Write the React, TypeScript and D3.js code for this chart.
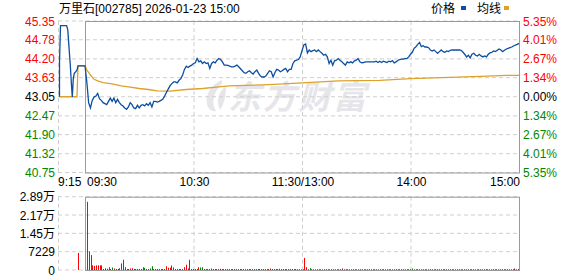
import React from 'react';
import * as d3 from 'd3';

const W = 578;
const H = 276;

const titleText = '万里石[002785] 2026-01-23 15:00';
const legendNames = ['价格', '均线'];
const prevClose = 43.05;
const priceTicks = [45.35, 44.78, 44.2, 43.63, 43.05, 42.47, 41.9, 41.32, 40.75];
const pctTicks = ['5.35%', '4.01%', '2.67%', '1.34%', '0.00%', '1.34%', '2.67%', '4.01%', '5.35%'];
const volTicks = [28916, 21687, 14458, 7229, 0];
const volTickLabels = ['2.89万', '2.17万', '1.45万', '7229', '0'];
const timeLabels = ['9:15', '09:30', '10:30', '11:30/13:00', '14:00', '15:00'];
const timeLabelMinutes = [-1, 0, 60, 120, 180, 240];
const gridMinutes = [60, 120, 180];

// pre-market auction (minutes after 9:15)
const preMinutes = [0.75, 0.76, 1.25, 4.3, 4.9, 5.5, 6.1, 6.8, 7.15, 7.65, 8.15, 8.85, 9.5, 10];
const prePrices = [43.05, 44.11, 45.21, 45.21, 45.08, 44.55, 44.05, 43.35, 43.04, 43.6, 43.76, 43.81, 43.86, 43.99];
const preAvgMinutes = [0.75, 9.5, 10];
const preAvgPrices = [43.05, 43.05, 43.99];
const preVolMinute = 10;
const preVolume = 6740;

// main session, one value per minute from 09:30 (0) to 15:00 (240)
const prices = [
  43.99, 43.5, 42.87, 42.71, 42.94, 43.04, 43.07, 43.15, 42.99, 42.94,
  42.87, 42.84, 42.81, 42.91, 43.01, 42.91, 43.01, 42.87, 42.97, 42.87,
  42.81, 42.77, 42.71, 42.67, 42.74, 42.87, 42.81, 42.71, 42.69, 42.79,
  42.71, 42.79, 42.81, 42.77, 42.84, 42.79, 42.87, 42.74, 42.91, 42.91,
  42.89, 42.91, 42.94, 42.97, 43.07, 43.18, 43.28, 43.38, 43.45, 43.5,
  43.5, 43.47, 43.55, 43.6, 43.71, 43.88, 43.98, 43.94, 43.98, 44.01,
  44.06, 44.08, 44.21, 44.11, 44.14, 44.06, 44.11, 44.06, 44.08, 43.91,
  44.06, 44.11, 44.08, 44.16, 44.21, 44.18, 44.11, 44.01, 44.01, 44.0,
  43.98, 43.96, 43.96, 43.98, 44.01, 43.96, 43.9, 43.84, 43.78, 43.76,
  43.81, 43.84, 43.78, 43.74, 43.81, 43.86, 43.76, 43.68, 43.65, 43.65,
  43.68, 43.76, 43.84, 43.81, 43.65, 43.78, 43.88, 43.86, 43.81, 43.84,
  43.88, 43.91, 43.81, 43.88, 43.88, 44.06, 44.14, 44.16, 44.18, 44.26,
  44.45, 44.62, 44.65, 44.38, 44.47, 44.42, 44.45, 44.47, 44.42, 44.47,
  44.42, 44.37, 44.31, 44.34, 44.26, 44.06, 44.16, 44.01, 44.14, 44.16,
  44.21, 44.16, 44.11, 44.06, 44.01, 44.11, 44.08, 44.11, 44.08, 44.14,
  44.16, 44.21, 44.11, 44.08, 44.09, 44.11, 44.11, 44.11, 44.11, 44.11,
  44.11, 44.13, 44.09, 44.13, 44.09, 44.13, 44.11, 44.09, 44.13, 44.11,
  44.15, 44.08, 44.11, 44.15, 44.18, 44.19, 44.19, 44.21, 44.21, 44.26,
  44.34, 44.4, 44.52, 44.57, 44.64, 44.7, 44.57, 44.6, 44.56, 44.56,
  44.54, 44.47, 44.44, 44.47, 44.42, 44.37, 44.42, 44.47, 44.42, 44.4,
  44.44, 44.42, 44.46, 44.47, 44.47, 44.47, 44.47, 44.47, 44.46, 44.4,
  44.34, 44.26, 44.31, 44.23, 44.34, 44.37, 44.31, 44.29, 44.34, 44.29,
  44.26, 44.29, 44.26, 44.34, 44.38, 44.4, 44.44, 44.42, 44.46, 44.5,
  44.47, 44.42, 44.46, 44.5, 44.52, 44.54, 44.56, 44.59, 44.62, 44.64,
  44.67,
];

const avgMinutes = [0, 1, 2, 3, 5, 7, 10, 15, 20, 25, 30, 35, 40, 47, 56, 65, 74, 80, 93, 102, 120, 140, 152, 163, 180, 197, 219, 233, 240];
const avgPrices = [43.99, 43.86, 43.79, 43.71, 43.58, 43.53, 43.48, 43.44, 43.38, 43.34, 43.3, 43.27, 43.23, 43.22, 43.27, 43.3, 43.35, 43.38, 43.4, 43.42, 43.47, 43.53, 43.54, 43.55, 43.6, 43.63, 43.67, 43.7, 43.7];

const volumes = [
  26900, 7350, 5880, 1840, 1600, 1840, 1840, 1840, 1840, 400,
  700, 500, 1100, 400, 1000, 600, 400, 400, 700, 2600,
  4050, 1100, 400, 400, 600, 700, 400, 400, 400, 400,
  400, 1100, 800, 400, 400, 600, 1500, 400, 400, 400,
  400, 400, 400, 400, 1500, 900, 900, 1800, 1000, 400,
  400, 400, 400, 400, 1100, 2080, 600, 4040, 400, 400,
  400, 400, 1100, 1000, 1100, 400, 370, 370, 370, 610,
  370, 370, 370, 370, 490, 370, 370, 370, 370, 370,
  370, 370, 370, 370, 370, 370, 370, 370, 370, 370,
  370, 370, 370, 370, 370, 370, 370, 370, 370, 370,
  370, 370, 610, 370, 370, 370, 370, 490, 370, 370,
  370, 370, 370, 370, 370, 370, 370, 300, 300, 300,
  300, 4780, 1100, 300, 700, 300, 300, 300, 300, 300,
  300, 300, 300, 300, 300, 300, 300, 300, 300, 300,
  300, 300, 600, 300, 300, 300, 300, 300, 300, 300,
  300, 300, 300, 300, 300, 300, 300, 300, 300, 300,
  300, 300, 300, 300, 300, 300, 300, 300, 300, 300,
  300, 300, 300, 300, 300, 300, 300, 300, 300, 300,
  300, 600, 300, 300, 300, 300, 300, 300, 300, 300,
  300, 300, 300, 300, 300, 300, 300, 300, 300, 300,
  300, 300, 300, 300, 300, 300, 300, 300, 300, 300,
  300, 300, 300, 300, 300, 300, 300, 300, 300, 300,
  300, 300, 300, 300, 300, 300, 300, 300, 300, 300,
  300, 300, 300, 300, 300, 300, 300, 300, 600, 300,
  400,
];

const volumeDirections =
  'gggrrrrrgg' + 'rggrgrgrgg' + 'rgrgrrgggr' + 'rrgrgggrrg' + 'grrrrrrrrr' +
  'rgggrrrrrr' + 'rrrggrrrrg' + 'rrgrrggggr' + 'ggrrrggggr' + 'rggggggrrr' +
  'rgrrrggrgg' + 'rrrrgrr' +
  'rgrrrrggrr' + 'gggrrrggrr' + 'rggggrrggr' + 'rrggrrrggg' + 'rrrggrrggr' +
  'rrgggrrrgg' + 'rrrrgggrrr' + 'ggrrrrgggr' + 'rggrrrgggg' + 'rrrggrrrgg' +
  'rrrgggrrgg' + 'rrrggrrggr' + 'rrgr';

const watermarkText = '东方财富';

const C = {
  blue: '#0c4fa0',
  orange: '#dca22a',
  red: '#ff0000',
  green: '#008800',
  grid: '#cfcfcf',
  box: '#9a9a9a',
  text: '#000000',
  watermark: '#e6e6ea',
};

const FONT = "'Liberation Sans', Arial, 'Noto Sans CJK SC', sans-serif";

export default function App() {
  const xPre = d3.scaleLinear().domain([0, 10]).range([58, 78]);
  const xMain = d3.scaleLinear().domain([0, 240]).range([85, 519]);
  const xVol = d3.scaleLinear().domain([0, 240]).range([87, 518]);
  const y = d3.scaleLinear().domain([40.75, 45.35]).range([172.5, 21]);
  const yVol = d3.scaleLinear().domain([0, 28916]).range([270, 196.7]);

  const linePts = (pre: [number, number][], main: [number, number][]) =>
    d3.line<[number, number]>().x((d) => d[0]).y((d) => d[1])([...pre, ...main]) || '';

  const pricePath = linePts(
    preMinutes.map((m, i) => [xPre(m), y(prePrices[i])]),
    prices.map((p, i) => [xMain(i), y(p)])
  );
  const avgPath = linePts(
    preAvgMinutes.map((m, i) => [xPre(m), y(preAvgPrices[i])]),
    avgMinutes.map((m, i) => [xMain(m), y(avgPrices[i])])
  );

  const left = 58;
  const boxL = xMain(0);
  const boxR = xMain(240);
  const labelColor = (i: number) => (i < 4 ? C.red : i === 4 ? C.text : C.green);

  return (
    <svg
      width={W}
      height={H}
      style={{ position: 'absolute', left: 0, top: 0, background: '#fff' }}
      fontFamily={FONT}
    >
      {/* title and legend */}
      <text x={59} y={13} fontSize={12} fill={C.text}>{titleText}</text>
      <text x={431} y={13} fontSize={12} fill={C.text}>{legendNames[0]}</text>
      <rect x={461} y={6} width={5} height={4} fill={C.blue} />
      <text x={477} y={13} fontSize={12} fill={C.text}>{legendNames[1]}</text>
      <rect x={504} y={6} width={5} height={4} fill={C.orange} />

      {/* watermark */}
      <g fill={C.watermark}>
        <path d="M222,80 C212,84 205,94 207,104 C208,109 212,112 216,111 C211,104 213,92 222,84 Z M226,86 C218,92 216,102 220,110 C224,104 226,96 226,86 Z" />
        <text x={228} y={109} fontSize={33} fontWeight="bold" fontStyle="italic" fontFamily="'Noto Sans CJK SC', sans-serif" letterSpacing={2}>
          {watermarkText}
        </text>
      </g>

      {/* main grid */}
      {priceTicks.map((p, i) => (
        <line key={'h' + i} x1={left} x2={boxR} y1={y(p)} y2={y(p)} stroke={C.grid} strokeDasharray="4,3" />
      ))}
      <line x1={left + 0.5} x2={left + 0.5} y1={y(45.35)} y2={y(40.75)} stroke={C.grid} strokeDasharray="4,3" />
      {gridMinutes.map((m) => (
        <line key={'v' + m} x1={xMain(m) + 0.5} x2={xMain(m) + 0.5} y1={y(45.35)} y2={y(40.75)} stroke={C.grid} strokeDasharray="4,3" />
      ))}
      <rect x={boxL + 0.5} y={y(45.35) + 0.5} width={boxR - boxL} height={y(40.75) - y(45.35)} fill="none" stroke={C.box} />

      {/* lines */}
      <path d={avgPath} fill="none" stroke={C.orange} strokeWidth={1.3} />
      <path d={pricePath} fill="none" stroke={C.blue} strokeWidth={1.3} />

      {/* price axis labels */}
      {priceTicks.map((p, i) => (
        <text key={'pl' + i} x={55} y={y(p) + 4.5} fontSize={12} textAnchor="end" fill={labelColor(i)}>
          {p.toFixed(2)}
        </text>
      ))}
      {pctTicks.map((t, i) => (
        <text key={'pr' + i} x={523} y={y(priceTicks[i]) + 4.5} fontSize={12} fill={labelColor(i)}>
          {t}
        </text>
      ))}

      {/* time labels */}
      {timeLabels.map((t, i) => {
        const m = timeLabelMinutes[i];
        const x = m < 0 ? xPre(0) : m === 0 ? xMain(0) + 2 : m === 240 ? xMain(240) + 1 : xMain(m) + 1;
        const anchor = m <= 0 ? 'start' : m === 240 ? 'end' : 'middle';
        return (
          <text key={'t' + i} x={x} y={186} fontSize={12} textAnchor={anchor} fill={C.text}>
            {t}
          </text>
        );
      })}

      {/* volume grid */}
      {volTicks.map((v, i) => (
        <line key={'vh' + i} x1={left} x2={boxR} y1={yVol(v)} y2={yVol(v)} stroke={C.grid} strokeDasharray="4,3" />
      ))}
      <line x1={left + 0.5} x2={left + 0.5} y1={yVol(28916)} y2={yVol(0)} stroke={C.grid} strokeDasharray="4,3" />
      {gridMinutes.map((m) => (
        <line key={'vv' + m} x1={xMain(m) + 0.5} x2={xMain(m) + 0.5} y1={yVol(28916)} y2={yVol(0)} stroke={C.grid} strokeDasharray="4,3" />
      ))}

      {/* volume bars */}
      <rect x={xPre(preVolMinute)} y={yVol(preVolume)} width={1} height={yVol(0) - yVol(preVolume)} fill={C.red} />
      {volumes.map((v, i) => (
        <rect
          key={'vb' + i}
          x={Math.round(xVol(i))}
          y={yVol(v)}
          width={1}
          height={yVol(0) - yVol(v)}
          fill={volumeDirections[i] === 'g' ? C.green : C.red}
        />
      ))}
      <rect x={boxL + 0.5} y={yVol(28916) + 0.5} width={boxR - boxL} height={yVol(0) - yVol(28916)} fill="none" stroke={C.box} />

      {volTickLabels.map((t, i) => (
        <text key={'vl' + i} x={55} y={yVol(volTicks[i]) + 4.5} fontSize={12} textAnchor="end" fill={C.text}>
          {t}
        </text>
      ))}
    </svg>
  );
}
